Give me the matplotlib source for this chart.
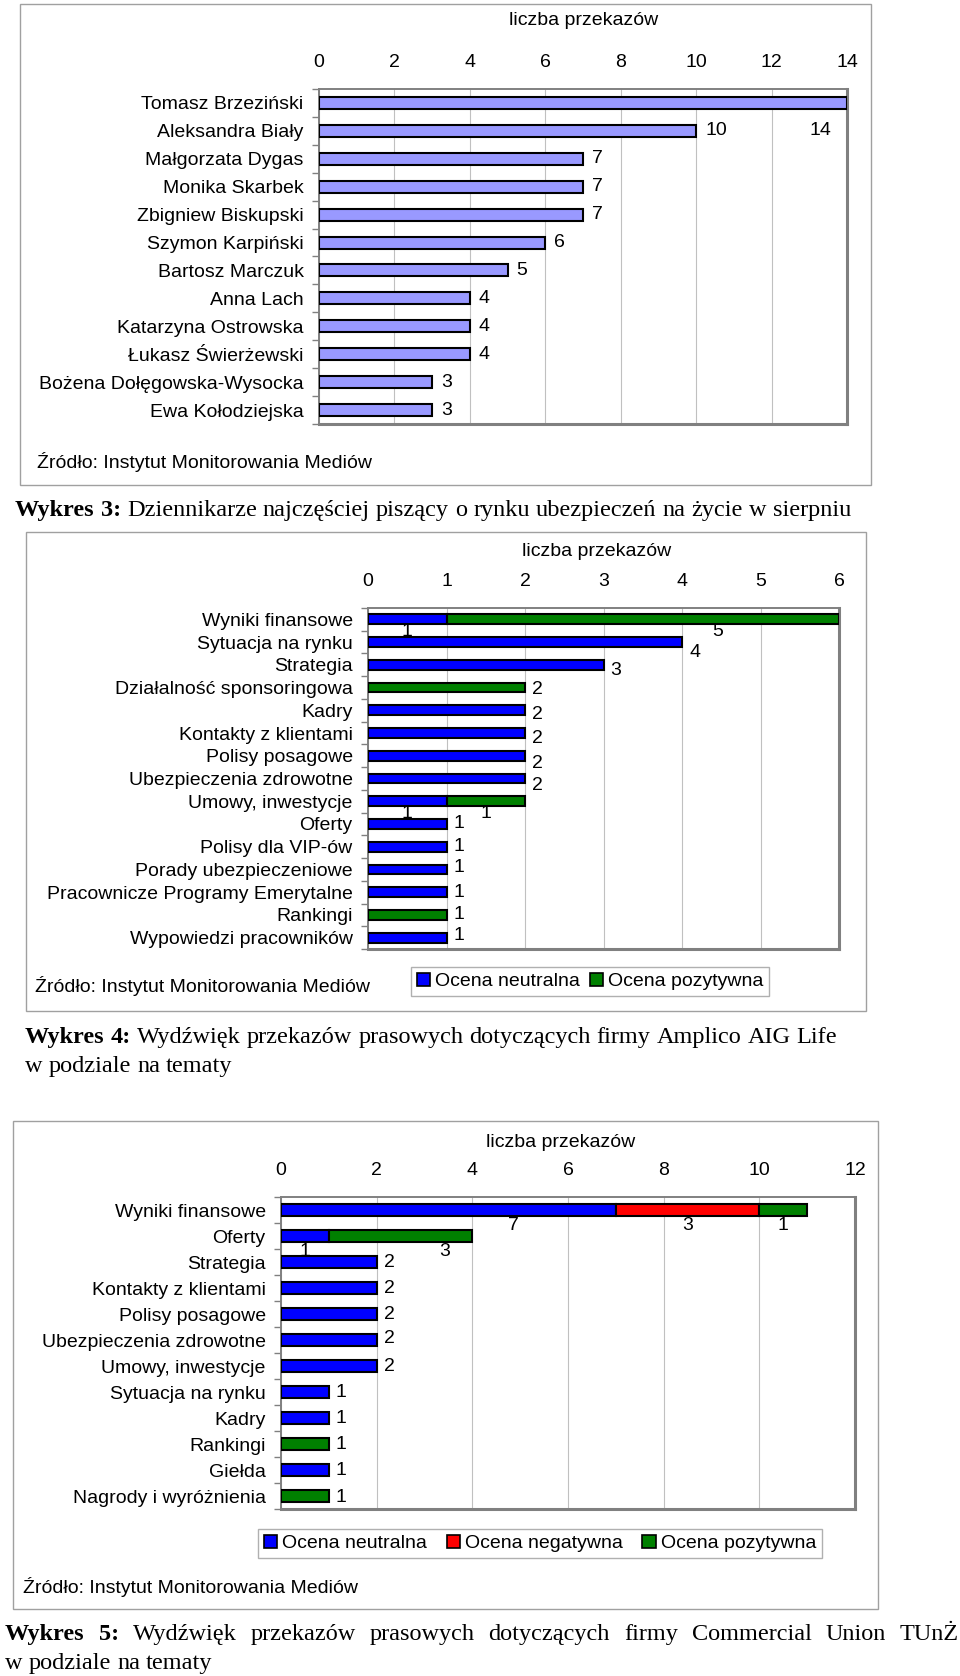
import numpy as np
import matplotlib
matplotlib.use('Agg')
import matplotlib.pyplot as plt
from matplotlib.patches import Rectangle, Patch

plt.rcParams['font.family'] = ['Liberation Sans', 'DejaVu Sans']

W, H = 960, 1676

# Wykres 3 - dziennikarze
journalists = ['Tomasz Brzeziński', 'Aleksandra Biały', 'Małgorzata Dygas', 'Monika Skarbek',
               'Zbigniew Biskupski', 'Szymon Karpiński', 'Bartosz Marczuk', 'Anna Lach',
               'Katarzyna Ostrowska', 'Łukasz Świerżewski', 'Bożena Dołęgowska-Wysocka',
               'Ewa Kołodziejska']
journalist_counts = [14, 10, 7, 7, 7, 6, 5, 4, 4, 4, 3, 3]

# Wykres 4 - Amplico AIG Life
topics_4 = ['Wyniki finansowe', 'Sytuacja na rynku', 'Strategia', 'Działalność sponsoringowa',
            'Kadry', 'Kontakty z klientami', 'Polisy posagowe', 'Ubezpieczenia zdrowotne',
            'Umowy, inwestycje', 'Oferty', 'Polisy dla VIP-ów', 'Porady ubezpieczeniowe',
            'Pracownicze Programy Emerytalne', 'Rankingi', 'Wypowiedzi pracowników']
neutral_4 = [1, 4, 3, 0, 2, 2, 2, 2, 1, 1, 1, 1, 1, 0, 1]
positive_4 = [5, 0, 0, 2, 0, 0, 0, 0, 1, 0, 0, 0, 0, 1, 0]

# Wykres 5 - Commercial Union TUnŻ
topics_5 = ['Wyniki finansowe', 'Oferty', 'Strategia', 'Kontakty z klientami', 'Polisy posagowe',
            'Ubezpieczenia zdrowotne', 'Umowy, inwestycje', 'Sytuacja na rynku', 'Kadry',
            'Rankingi', 'Giełda', 'Nagrody i wyróżnienia']
neutral_5 = [7, 1, 2, 2, 2, 2, 2, 1, 1, 0, 1, 0]
negative_5 = [3, 0, 0, 0, 0, 0, 0, 0, 0, 0, 0, 0]
positive_5 = [1, 3, 0, 0, 0, 0, 0, 0, 0, 1, 0, 1]

series_names_4 = ['Ocena neutralna', 'Ocena pozytywna']
series_names_5 = ['Ocena neutralna', 'Ocena negatywna', 'Ocena pozytywna']

C_NEU, C_NEG, C_POS, C_J = '#0000FF', '#FF0000', '#008000', '#9999FF'
AXIS_TITLE = 'liczba przekazów'
SOURCE = 'Źródło: Instytut Monitorowania Mediów'

# label tweaks (pixels down from row centre)
single_dy_4 = [0, 10, 6, 2, 4, 5, 8, 7, 0, 0, 0, -2, 0, 0, -2]
single_dy_5 = [0, 0, 0, 0, 0, -2, 0, 0, 0, 0, 0, 1]
stack_shift_4 = {(0, 1): 0.96}
stack_shift_5 = {(0, 0): 1.36, (1, 2): 0.93}

fig = plt.figure(figsize=(W / 100, H / 100), dpi=100)
fig.patch.set_facecolor('white')


def fx(x):
    return x / W


def fy(y):
    return 1 - y / H


def setup_axes(l, t, r, b, labels, xmax, step):
    ax = fig.add_axes([fx(l), fy(b), (r - l) / W, (b - t) / H])
    n = len(labels)
    ax.set_xlim(0, xmax)
    ax.set_ylim(n - 0.5, -0.5)
    ax.set_xticks(np.arange(0, xmax + 1, step))
    ax.xaxis.tick_top()
    ax.tick_params(axis='x', length=0, pad=13, labelsize=14)
    ax.set_yticks(range(n))
    ax.set_yticklabels(labels)
    ax.tick_params(axis='y', which='major', length=0, pad=11, labelsize=14)
    ax.set_yticks(np.arange(-0.5, n), minor=True)
    ax.tick_params(axis='y', which='minor', length=5, color='#808080', width=1)
    ax.grid(axis='x', color='#C0C0C0', lw=0.8)
    ax.set_axisbelow(True)
    for s in ax.spines.values():
        s.set_color('#808080')
        s.set_linewidth(1.4)
    ax.spines['right'].set_linewidth(2.2)
    ax.spines['bottom'].set_linewidth(2.2)
    return ax


def frame(l, t, r, b):
    fig.patches.append(Rectangle((fx(l), fy(b)), (r - l) / W, (b - t) / H, transform=fig.transFigure,
                                 fill=False, edgecolor='#A0A0A0', lw=1.0))


def stacked(ax, series, colors, single_dy, stack_dy, shifts):
    n = len(series[0])
    left = np.zeros(n)
    data = [np.array(v, float) for v in series]
    for vals, col in zip(data, colors):
        idx = np.nonzero(vals)[0]
        ax.barh(idx, vals[idx], left=left[idx], height=0.43, color=col, edgecolor='black', lw=1.5, zorder=3)
        left += vals
    nz = np.array([(d > 0) for d in data])
    total = np.sum(data, axis=0)
    for i in range(n):
        if nz[:, i].sum() == 1:
            ax.annotate(str(int(total[i])), (total[i], i), xytext=(7, -single_dy[i]),
                        textcoords='offset pixels', ha='left', va='center', fontsize=14)
        else:
            start = 0
            for k, d in enumerate(data):
                if d[i] > 0:
                    xm = start + d[i] / 2 + shifts.get((i, k), 0)
                    ax.annotate(str(int(d[i])), (xm, i), xytext=(0, -stack_dy),
                                textcoords='offset pixels', ha='center', va='center', fontsize=14)
                start += d[i]


def legend(names, colors, cx, cy, colspace):
    handles = [Patch(facecolor=c, edgecolor='black', lw=1.2) for c in colors]
    fig.legend(handles, names, loc='center', bbox_to_anchor=(fx(cx), fy(cy)), bbox_transform=fig.transFigure,
               ncol=len(names), frameon=True, fancybox=False, edgecolor='#B0B0B0', fontsize=14,
               handlelength=0.7, handleheight=0.7, handletextpad=0.25, columnspacing=colspace,
               borderpad=0.3, framealpha=1)


def caption(tokens, x0, y, x1=None):
    # y is the visual middle of the line; words share one baseline
    r = fig.canvas.get_renderer()
    base = y + 7
    texts = [fig.text(fx(x0), fy(base), t, fontsize=17.5, family='Liberation Serif', weight=w,
                      ha='left', va='baseline') for t, w in tokens]
    widths = [t.get_window_extent(r).width for t in texts]
    if x1 is None:
        gap = 17.5 * 100 / 72 * 0.25
    else:
        gap = (x1 - x0 - sum(widths)) / (len(texts) - 1)
    x = x0
    for t, w in zip(texts, widths):
        t.set_x(fx(x))
        x += w + gap


def words(s, weight='normal'):
    return [(w, weight) for w in s.split()]


# ---------------- Wykres 3
frame(20, 4, 871, 485)
ax1 = setup_axes(319, 89, 847, 424, journalists, 14, 2)
ax1.barh(range(len(journalists)), journalist_counts, height=0.43, color=C_J, edgecolor='black', lw=1.5, zorder=3)
for i, v in enumerate(journalist_counts):
    if v >= 14:
        ax1.text(v - 0.7, i + 1, str(v), ha='center', va='center', fontsize=14)
    else:
        ax1.annotate(str(v), (v, i), xytext=(9, 0), textcoords='offset pixels', ha='left', va='center', fontsize=14)
fig.text(fx(584), fy(20.7), AXIS_TITLE, ha='center', va='center', fontsize=14)
fig.text(fx(37), fy(461.5), SOURCE, ha='left', va='center', fontsize=14)
caption(words('Wykres 3:', 'bold') + words('Dziennikarze najczęściej piszący o rynku ubezpieczeń na życie w sierpniu'),
        15, 509)

# ---------------- Wykres 4
frame(26, 532, 866, 1011)
ax2 = setup_axes(368, 608, 839, 949, topics_4, 6, 1)
stacked(ax2, [neutral_4, positive_4], [C_NEU, C_POS], single_dy_4, 12, stack_shift_4)
fig.text(fx(597), fy(551.4), AXIS_TITLE, ha='center', va='center', fontsize=14)
fig.text(fx(35), fy(986), SOURCE, ha='left', va='center', fontsize=14)
legend(series_names_4, [C_NEU, C_POS], 590, 981.5, 0.5)
caption(words('Wykres 4:', 'bold') + words('Wydźwięk przekazów prasowych dotyczących firmy Amplico AIG Life'),
        25, 1036)
caption(words('w podziale na tematy'), 25, 1064.6)

# ---------------- Wykres 5
frame(13, 1121, 878, 1609)
ax3 = setup_axes(281, 1197, 855, 1509, topics_5, 12, 2)
stacked(ax3, [neutral_5, negative_5, positive_5], [C_NEU, C_NEG, C_POS], single_dy_5, 15, stack_shift_5)
fig.text(fx(561), fy(1142.5), AXIS_TITLE, ha='center', va='center', fontsize=14)
fig.text(fx(23), fy(1586.5), SOURCE, ha='left', va='center', fontsize=14)
legend(series_names_5, [C_NEU, C_NEG, C_POS], 540, 1543.5, 1.0)
caption(words('Wykres 5:', 'bold') + words('Wydźwięk przekazów prasowych dotyczących firmy Commercial Union TUnŻ'),
        5, 1633, 959)
caption(words('w podziale na tematy'), 5, 1662)

fig.savefig('out.png', dpi=100, facecolor='white')
